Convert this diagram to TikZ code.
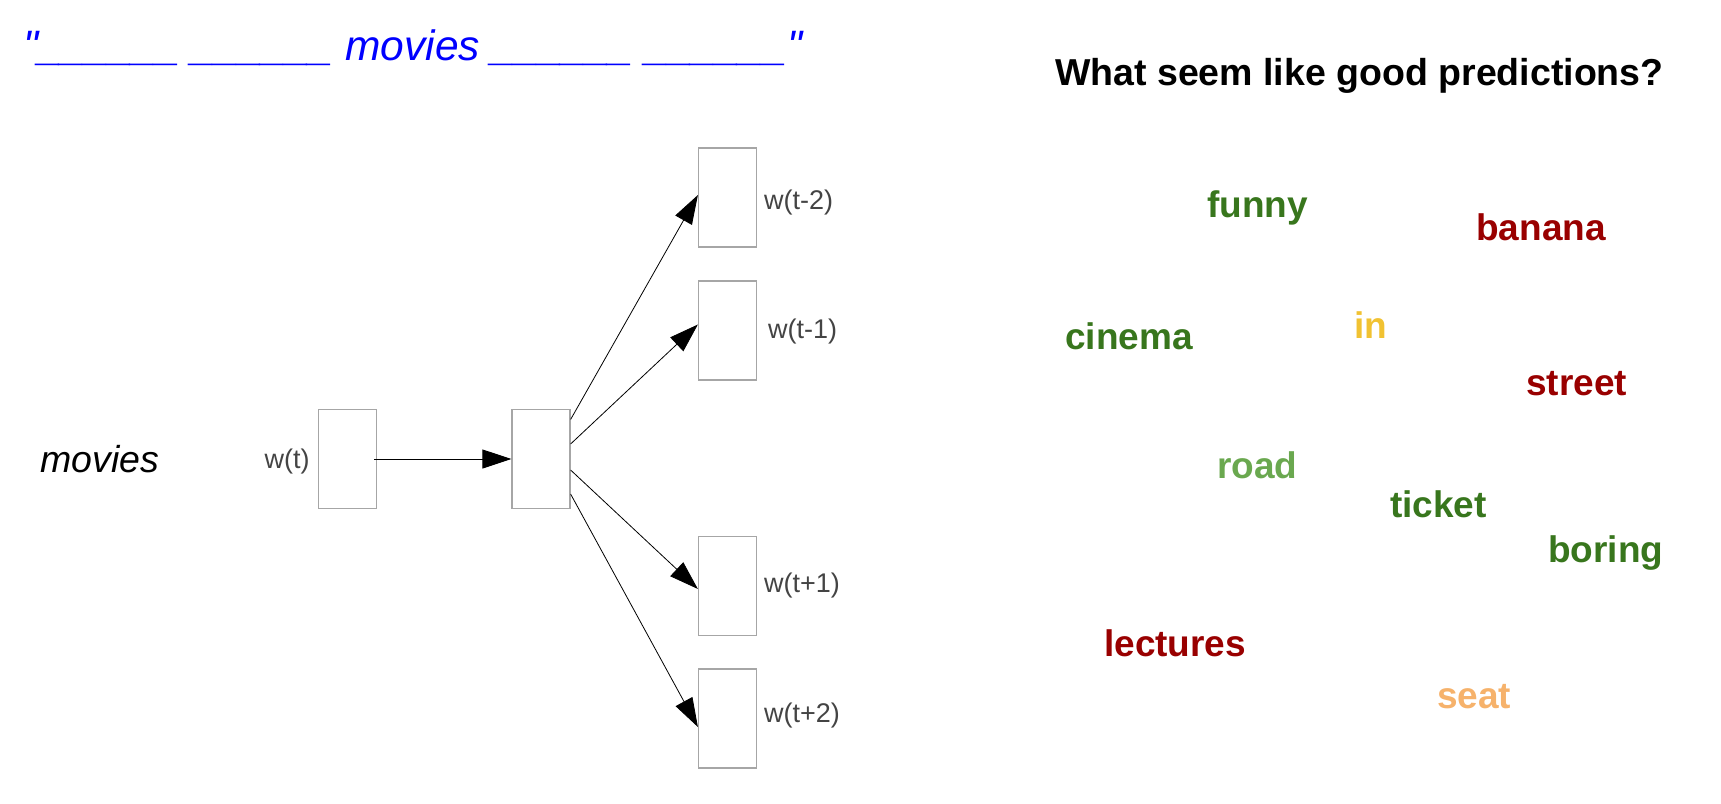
\documentclass[tikz,border=0pt]{standalone}
\usepackage{fontspec}
\setmainfont{Liberation Sans}
\usepackage{tikz}
\usetikzlibrary{arrows.meta, positioning, calc}
\definecolor{wgreen}{HTML}{38761D}
\definecolor{wlgreen}{HTML}{6AA84F}
\definecolor{wred}{HTML}{990000}
\definecolor{wyellow}{HTML}{F1C232}
\definecolor{worange}{HTML}{F6B26B}
\definecolor{wblue}{HTML}{0000FF}
\definecolor{wgray}{HTML}{444444}
\definecolor{wbox}{HTML}{A6A6A6}

\begin{document}
\begin{tikzpicture}[x=1pt, y=-1pt,
    vec/.style={draw=wbox, line width=1.2pt, minimum width=58pt, minimum height=99pt, inner sep=0pt},
    lbl/.style={text=wgray, font=\fontsize{27}{32}\selectfont, inner sep=0pt},
    word/.style={anchor=base west, inner sep=0pt, font=\fontsize{37}{44}\selectfont\bfseries},
    link/.style={draw=black, line width=0.8pt, -{Triangle[length=29pt,width=19pt]}}]
  \useasboundingbox (0,0) rectangle (1721,803);

  % Sentence with blanks
  \node[anchor=base west, inner sep=0pt, text=wblue, font=\fontsize{42.5}{50}\selectfont\itshape] (sent) at (23,60)
    {\textquotedbl\_\_\_\_\_\_ \_\_\_\_\_\_ movies \_\_\_\_\_\_ \_\_\_\_\_\_\textquotedbl};
  \node[anchor=base west, inner sep=0pt, font=\fontsize{37.5}{44}\selectfont\itshape] (inword) at (40,472) {movies};

  % Input and hidden vectors
  \node[vec] (wt) at (347.5,459) {};
  \node[vec] (hid) at (541,459) {};
  \node[lbl, left=8pt of wt, yshift=-3pt] (wtlbl) {w(t)};
  \draw[link] ([xshift=-3pt]wt.east) -- (hid.west);

  % Context vectors
  \foreach \n/\y/\l/\lx/\ly in {wm2/197.5/w(t-2)/764/203, wm1/330.5/w(t-1)/768/332, wp1/586/w(t+1)/764/586, wp2/718.5/w(t+2)/764/716} {
    \node[vec] (\n) at (727.5,\y) {};
    \node[lbl, anchor=west] (\n lbl) at (\lx,\ly) {\l};
  }
  \foreach \n/\a/\b in {wm2/-39.5/-2.5, wm1/-15/-6, wp1/11/3, wp2/35/8.5}
    \draw[link] ($(hid.east)+(0,\a)$) -- ($(\n.west)+(0,\b)$);

  % Question
  \node[word, font=\fontsize{37.5}{44}\selectfont\bfseries] (quest) at (1055,85) {What seem like good predictions?};

  % Candidate words
  \foreach \x/\y/\w/\c in {1207/217/funny/wgreen, 1476/240/banana/wred, 1065/349/cinema/wgreen,
      1354/338/in/wyellow, 1526/395/street/wred, 1217/478/road/wlgreen, 1390/517/ticket/wgreen,
      1548/562/boring/wgreen, 1104/656/lectures/wred, 1437/708/seat/worange} {
    \node[word, text=\c] (\w) at (\x,\y) {\w};
  }
\end{tikzpicture}
\end{document}
